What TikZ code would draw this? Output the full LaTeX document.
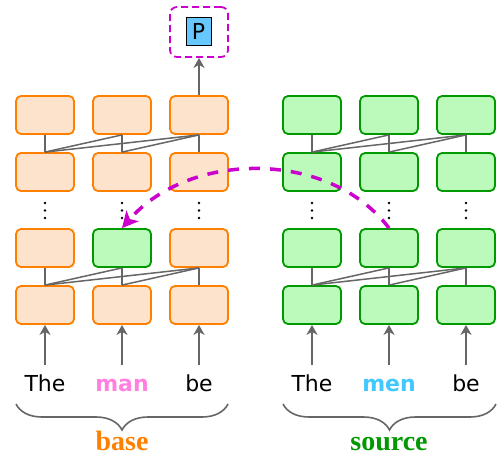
\documentclass[tikz,border=0pt]{standalone}
\usepackage{fontspec}
\setmainfont{DejaVu Sans}
\newfontfamily\lserif{Liberation Serif}
\usetikzlibrary{arrows.meta,decorations.pathreplacing}
\definecolor{obord}{RGB}{255,128,0}
\definecolor{ofill}{RGB}{253,227,204}
\definecolor{gbord}{RGB}{0,153,0}
\definecolor{gfill}{RGB}{187,250,187}
\definecolor{lgray}{RGB}{102,102,102}
\definecolor{mag}{RGB}{204,0,204}
\definecolor{pinkw}{RGB}{255,128,224}
\definecolor{bluew}{RGB}{64,200,255}
\definecolor{pfill}{RGB}{102,200,255}
\tikzset{
  cell/.style={rectangle, rounded corners=5pt, line width=1.8pt, minimum width=58pt, minimum height=38pt, inner sep=0pt},
  obox/.style={cell, draw=obord, fill=ofill},
  gbox/.style={cell, draw=gbord, fill=gfill},
  link/.style={draw=lgray, line width=1.5pt},
  uparrow/.style={draw=lgray, line width=1.8pt, -{Stealth[length=10pt,width=11pt,inset=3pt]}},
  word/.style={inner sep=0pt, outer sep=0pt, text height=17pt, text depth=5pt, anchor=base, font=\fontsize{22}{26}\selectfont},
  grouplabel/.style={inner sep=0pt, outer sep=0pt, anchor=base, font=\lserif\bfseries\fontsize{28}{32}\selectfont},
  bracestyle/.style={draw=lgray, line width=1.6pt, decorate, decoration={brace, amplitude=26pt}},
}
\begin{document}
\begin{tikzpicture}[x=1pt,y=-1pt]
\useasboundingbox (0,0) rectangle (497,455);
% base column
\foreach \c/\x in {1/45,2/122,3/199}{
  \node[obox] (b1\c) at (\x,115) {};
  \node[obox] (b2\c) at (\x,172) {};
  \node[obox] (b4\c) at (\x,305) {};
  \foreach \yy in {203,210.5,218} \fill (\x,\yy) circle (1.3pt);
}
\node[obox] (b31) at (45,248) {};
\node[gbox] (b32) at (122,248) {};
\node[obox] (b33) at (199,248) {};
% source column
\foreach \c/\x in {1/312,2/389,3/466}{
  \node[gbox] (s1\c) at (\x,115) {};
  \node[gbox] (s2\c) at (\x,172) {};
  \node[gbox] (s3\c) at (\x,248) {};
  \node[gbox] (s4\c) at (\x,305) {};
  \foreach \yy in {203,210.5,218} \fill (\x,\yy) circle (1.3pt);
}
% attention links
\foreach \p in {b,s}{
  \foreach \lo/\hi in {2/1,4/3}{
    \foreach \c in {1,2,3}{ \draw[link] (\p\lo\c.north) -- (\p\hi\c.south); }
    \draw[link] (\p\lo1.north) -- (\p\hi2.south);
    \draw[link] (\p\lo1.north) -- (\p\hi3.south);
    \draw[link] (\p\lo2.north) -- (\p\hi3.south);
  }
}
% words
\node[word] (bw1) at (45,391) {The};
\node[word, text=pinkw, font=\bfseries\fontsize{22}{26}\selectfont] (bw2) at (122,391) {man};
\node[word] (bw3) at (199,391) {be};
\node[word] (sw1) at (312,391) {The};
\node[word, text=bluew, font=\bfseries\fontsize{22}{26}\selectfont] (sw2) at (389,391) {men};
\node[word] (sw3) at (466,391) {be};
\foreach \c in {1,2,3}{
  \draw[uparrow, shorten <=9pt] (bw\c) -- (b4\c);
  \draw[uparrow, shorten <=9pt] (sw\c) -- (s4\c);
}
% P output
\node[draw=mag, dash pattern=on 7pt off 4pt, line width=1.8pt, rounded corners=7pt, minimum width=58pt, minimum height=50pt, inner sep=0pt] (pout) at (199,32) {};
\node[draw=black, line width=1pt, fill=pfill, minimum width=25pt, minimum height=28pt, inner sep=0pt, font=\fontsize{22}{26}\selectfont] (pbox) at (198.5,31) {P};
\draw[uparrow] (b13) -- (pout);
% patching arrow
\draw[mag, line width=3.5pt, dash pattern=on 11pt off 10pt, -{Stealth[length=16pt,width=16pt,inset=4pt]}]
  (s32.north) .. controls (330,150) and (190,150) .. (b32.north);
% braces
\coordinate (bbl) at (16,404);
\coordinate (bbr) at (228,404);
\coordinate (sbl) at (283,404);
\coordinate (sbr) at (496,404);
\draw[bracestyle] (bbr) -- (bbl);
\draw[bracestyle] (sbr) -- (sbl);
\node[grouplabel, text=obord] (lbase) at (122,450) {base};
\node[grouplabel, text=gbord] (lsource) at (389,450) {source};
\end{tikzpicture}
\end{document}
